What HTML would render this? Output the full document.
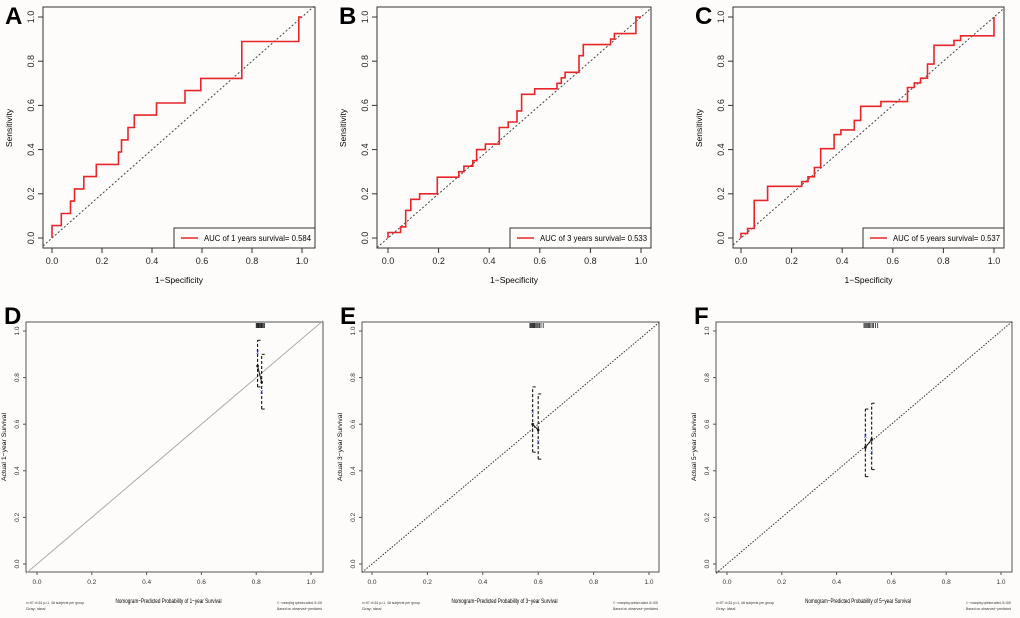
<!DOCTYPE html>
<html><head><meta charset="utf-8">
<style>
body{margin:0;background:#fdfcfb;}
svg{display:block;font-family:"Liberation Sans",Arial,sans-serif;}
</style></head>
<body>
<svg id="fig" width="1020" height="618" viewBox="0 0 1020 618"></svg>
<script>
// ROC data
const rocA_fpr=[0,0,0.037,0.037,0.074,0.074,0.09,0.09,0.127,0.127,0.177,0.177,0.266,0.266,0.278,0.278,0.304,0.304,0.329,0.329,0.418,0.418,0.532,0.532,0.595,0.595,0.759,0.759,0.987,0.987,1];
const rocA_tpr=[0,0.056,0.056,0.111,0.111,0.167,0.167,0.222,0.222,0.278,0.278,0.333,0.333,0.389,0.389,0.444,0.444,0.5,0.5,0.556,0.556,0.611,0.611,0.667,0.667,0.722,0.722,0.889,0.889,1,1];
const rocB_fpr=[0,0,0.05,0.05,0.07,0.07,0.09,0.09,0.125,0.125,0.195,0.195,0.28,0.28,0.3,0.3,0.335,0.335,0.35,0.35,0.385,0.385,0.44,0.44,0.475,0.475,0.51,0.51,0.528,0.528,0.58,0.58,0.668,0.668,0.685,0.685,0.7,0.7,0.755,0.755,0.772,0.772,0.88,0.88,0.895,0.895,0.98,0.98,1];
const rocB_tpr=[0,0.025,0.025,0.05,0.05,0.125,0.125,0.175,0.175,0.2,0.2,0.275,0.275,0.3,0.3,0.325,0.325,0.35,0.35,0.4,0.4,0.425,0.425,0.5,0.5,0.525,0.525,0.575,0.575,0.65,0.65,0.675,0.675,0.7,0.7,0.725,0.725,0.75,0.75,0.825,0.825,0.875,0.875,0.9,0.9,0.925,0.925,1,1];
const rocC_fpr=[0,0,0.026,0.026,0.052,0.052,0.105,0.105,0.24,0.24,0.265,0.265,0.29,0.29,0.315,0.315,0.368,0.368,0.395,0.395,0.448,0.448,0.473,0.473,0.553,0.553,0.658,0.658,0.685,0.685,0.71,0.71,0.737,0.737,0.763,0.763,0.842,0.842,0.868,0.868,1,1];
const rocC_tpr=[0,0.021,0.021,0.043,0.043,0.17,0.17,0.234,0.234,0.255,0.255,0.277,0.277,0.319,0.319,0.404,0.404,0.468,0.468,0.489,0.489,0.532,0.532,0.596,0.596,0.617,0.617,0.681,0.681,0.702,0.702,0.723,0.723,0.787,0.787,0.872,0.872,0.894,0.894,0.915,0.915,1];
const aucLabels=["AUC of 1 years survival= 0.584","AUC of 3 years survival= 0.533","AUC of 5 years survival= 0.537"];
const ticks=[0,0.2,0.4,0.6,0.8,1.0];
const tickLabels=["0.0","0.2","0.4","0.6","0.8","1.0"];
// Calibration data
const calD_pred=[0.805,0.82], calD_obs=[0.85,0.78], calD_corr=[0.91,0.74], calD_lo=[0.76,0.665], calD_hi=[0.96,0.9];
const calE_pred=[0.58,0.6], calE_obs=[0.6,0.575], calE_corr=[0.655,0.525], calE_lo=[0.48,0.45], calE_hi=[0.76,0.73];
const calF_pred=[0.505,0.528], calF_obs=[0.5,0.535], calF_corr=[0.55,0.48], calF_lo=[0.375,0.405], calF_hi=[0.665,0.69];
const rugD=[0.8,0.803,0.806,0.808,0.81,0.812,0.815,0.818,0.82,0.823,0.826,0.83];
const rugE=[0.57,0.573,0.576,0.579,0.582,0.585,0.588,0.592,0.596,0.6,0.605,0.61,0.618];
const rugF=[0.5,0.504,0.508,0.512,0.516,0.52,0.525,0.53,0.535,0.542,0.55];

const NS="http://www.w3.org/2000/svg";
const svg=document.getElementById('fig');
function el(tag,attrs,parent,text){const e=document.createElementNS(NS,tag);for(const k in attrs)e.setAttribute(k,attrs[k]);if(text!==undefined)e.textContent=text;(parent||svg).appendChild(e);return e;}

function rocPanel(letter,box,x0,x1,fpr,tpr,legX,label){
  const g=el('g',{});
  
  
  const y1=17,y0=238;
  const sx=v=>x0+v*(x1-x0), sy=v=>y0-v*(y0-y1);
  const L=el('text',{x:box.l-38,y:24,'font-size':24,'font-weight':'bold'},g,letter);
  
  
  const r=el('rect',{x:box.l,y:7,width:box.r-box.l,height:241,fill:'none',stroke:'#333','stroke-width':1},g);
  
  
  const d=el('line',{x1:box.l,y1:sy((box.l-x0)/(x1-x0)),x2:box.r,y2:sy((box.r-x0)/(x1-x0)),stroke:'#444','stroke-dasharray':'2,2','stroke-width':1},g);
  
  
  ticks.forEach((t,i)=>{
    el('line',{x1:sx(t),y1:248,x2:sx(t),y2:253,stroke:'#333'},g);
    const tx=el('text',{x:sx(t),y:264,'font-size':9,'text-anchor':'middle',fill:'#222'},g,tickLabels[i]);
    
    
    el('line',{x1:box.l,y1:sy(t),x2:box.l-5,y2:sy(t),stroke:'#333'},g);
    const ty=el('text',{x:0,y:0,'font-size':9,'text-anchor':'middle',fill:'#222',transform:`translate(${box.l-9},${sy(t)}) rotate(-90)`},g,tickLabels[i]);
    
    
  });
  const xt=el('text',{x:(box.l+box.r)/2,y:283,'font-size':8.5,'text-anchor':'middle'},g,'1−Specificity');
  
  
  const yt=el('text',{x:0,y:0,'font-size':8.5,'text-anchor':'middle',transform:`translate(${box.l-31},128) rotate(-90)`},g,'Sensitivity');
  
  
  const pts=fpr.map((f,i)=>sx(f).toFixed(1)+','+sy(tpr[i]).toFixed(1)).join(' ');
  const pl=el('polyline',{points:pts,fill:'none',stroke:'#e8262a','stroke-width':1.6},g);
  
  
  const lg=el('g',{},g);
  
  
  el('rect',{x:legX,y:228,width:box.r-legX,height:20,fill:'#fdfcfb',stroke:'#333'},lg);
  el('line',{x1:legX+7,y1:238,x2:legX+24,y2:238,stroke:'#e8262a','stroke-width':1.6},lg);
  el('text',{x:legX+30,y:241,'font-size':8,textLength:107,lengthAdjust:'spacingAndGlyphs'},lg,label);
}
rocPanel('A',{l:43,r:315},52,302,rocA_fpr,rocA_tpr,174,aucLabels[0]);
rocPanel('B',{l:377,r:651},388,641,rocB_fpr,rocB_tpr,510,aucLabels[1]);
rocPanel('C',{l:733,r:1004},741,994,rocC_fpr,rocC_tpr,863,aucLabels[2]);

function calPanel(letter,box,x0,x1,pred,obs,corr,lo,hi,rug,yr,solid,foot){
  const g=el('g',{});
  
  
  const y1=331,y0=564;
  const sx=v=>x0+v*(x1-x0), sy=v=>y0-v*(y0-y1);
  const L=el('text',{x:box.l-22,y:324,'font-size':24,'font-weight':'bold'},g,letter);
  
  
  const r=el('rect',{x:box.l,y:322,width:box.r-box.l,height:250,fill:'none',stroke:'#555','stroke-width':1},g);
  
  
  const fl=v=>(v-x0)/(x1-x0);
  const ideal=el('line',{x1:box.l,y1:sy(fl(box.l)),x2:box.r,y2:sy(fl(box.r)),stroke:solid?'#aaa':'#333','stroke-width':1,'stroke-dasharray':solid?'none':'1.5,1.5'},g);
  
  
  ticks.forEach((t,i)=>{
    el('line',{x1:sx(t),y1:572,x2:sx(t),y2:575,stroke:'#555'},g);
    el('text',{x:sx(t),y:584,'font-size':6.5,'text-anchor':'middle',fill:'#333'},g,tickLabels[i]);
    el('line',{x1:box.l,y1:sy(t),x2:box.l-3,y2:sy(t),stroke:'#555'},g);
    el('text',{x:0,y:0,'font-size':6.5,'text-anchor':'middle',fill:'#333',transform:`translate(${box.l-7},${sy(t)}) rotate(-90)`},g,tickLabels[i]);
  });
  const xt=el('text',{x:(box.l+box.r)/2-6,y:603,'font-size':6.5,'text-anchor':'middle',textLength:106,lengthAdjust:'spacingAndGlyphs'},g,`Nomogram−Predicted Probability of ${yr}−year Survival`);
  
  
  const yt=el('text',{x:0,y:0,'font-size':6.5,'text-anchor':'middle',textLength:68,lengthAdjust:'spacingAndGlyphs',transform:`translate(${box.l-20},447) rotate(-90)`},g,`Actual ${yr}−year Survival`);
  
  
  el('text',{x:box.l,y:604,'font-size':4,fill:'#333',textLength:58,lengthAdjust:'spacingAndGlyphs'},g,foot[0]);
  el('text',{x:box.l,y:610,'font-size':4,fill:'#333'},g,'Gray: ideal');
  el('text',{x:box.r-1,y:604,'font-size':4,fill:'#333','text-anchor':'end',textLength:45,lengthAdjust:'spacingAndGlyphs'},g,foot[1]);
  el('text',{x:box.r-1,y:610,'font-size':4,fill:'#333','text-anchor':'end',textLength:45,lengthAdjust:'spacingAndGlyphs'},g,'Based on observed−predicted');
  rug.forEach(v=>{
    const rl=el('line',{x1:sx(v),y1:323,x2:sx(v),y2:328,stroke:'#222','stroke-width':0.8},g);
    
    
  });
  pred.forEach((p,i)=>{
    const eb=el('g',{},g);
    
    
    el('line',{x1:sx(p),y1:sy(lo[i]),x2:sx(p),y2:sy(hi[i]),stroke:'#111','stroke-dasharray':'3,2','stroke-width':1.1},eb);
    el('line',{x1:sx(p),y1:sy(hi[i]),x2:sx(p)+3,y2:sy(hi[i]),stroke:'#111'},eb);
    el('line',{x1:sx(p),y1:sy(lo[i]),x2:sx(p)+3,y2:sy(lo[i]),stroke:'#111'},eb);
    const c=el('text',{x:sx(p),y:sy(corr[i])+2,'font-size':6,fill:'#3344bb','text-anchor':'middle'},g,'x');
    
    
  });
  const op=el('polyline',{points:pred.map((p,i)=>sx(p)+','+sy(obs[i])).join(' '),fill:'none',stroke:'#111','stroke-width':1},g);
  
  
  pred.forEach((p,i)=>el('circle',{cx:sx(p),cy:sy(obs[i]),r:1.3,fill:'#111'},g));
}
calPanel('D',{l:26,r:323},37,311,calD_pred,calD_obs,calD_corr,calD_lo,calD_hi,rugD,1,true,['n=97 d=51 p=1, 48 subjects per group','X − resampling optimism added, B=100']);
calPanel('E',{l:362,r:659},372,649,calE_pred,calE_obs,calE_corr,calE_lo,calE_hi,rugE,3,false,['n=97 d=51 p=1, 48 subjects per group','X − resampling optimism added, B=1000']);
calPanel('F',{l:716,r:1012},727,1001,calF_pred,calF_obs,calF_corr,calF_lo,calF_hi,rugF,5,false,['n=97 d=51 p=1, 48 subjects per group','X − resampling optimism added, B=1000']);
</script>
</body></html>
